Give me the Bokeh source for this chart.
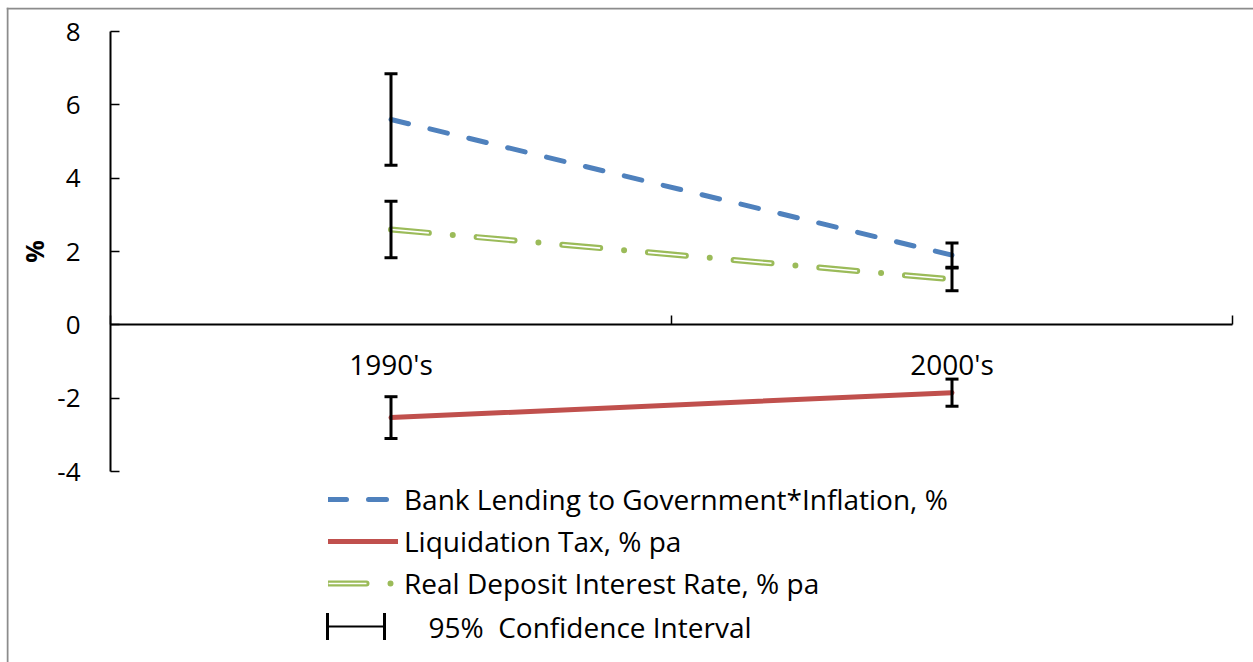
import math
from bokeh.plotting import figure
from bokeh.models import (Range1d, FixedTicker, Whisker, TeeHead, ColumnDataSource,
                          Legend, LegendItem, Label, Span)
from bokeh.embed import file_html
from bokeh.resources import INLINE

# --- data -------------------------------------------------------------
periods = ["1990's", "2000's"]
bank_lending = [5.6, 1.9]            # Bank Lending to Government*Inflation, %
bank_lending_ci = [1.25, 0.33]       # 95% CI half-width
liquidation_tax = [-2.53, -1.85]     # Liquidation Tax, % pa
liquidation_tax_ci = [0.57, 0.37]
real_deposit = [2.6, 1.24]           # Real Deposit Interest Rate, % pa
real_deposit_ci = [0.77, 0.31]
y_ticks = [-4, -2, 0, 2, 4, 6, 8]

# --- layout / style ---------------------------------------------------
FONT = "Open Sans"
W, H = 1253, 662
FRAME_L, FRAME_T = 6, 7          # chart area starts here (grey border)
AXIS_X0, AXIS_X1 = 110, 1232     # canvas x of the category axis ends
AXIS_Y_TOP, AXIS_Y_BOT = 31, 471 # canvas y of the value axis ends
BLUE, RED, GREEN = "#4F81BD", "#C0504D", "#9BBB59"
BORDER = "#8c8c8c"

# category centres sit in the middle of equal bands
x = [i + 0.5 for i in range(len(periods))]
bands = list(range(len(periods) + 1))

px_x = (AXIS_X1 - AXIS_X0) / (bands[-1] - bands[0])
px_y = (AXIS_Y_BOT - AXIS_Y_TOP) / (y_ticks[-1] - y_ticks[0])
x_start = bands[0] - (AXIS_X0 - FRAME_L) / px_x
x_end = bands[-1] + (W - AXIS_X1) / px_x
y_end = y_ticks[-1] + (AXIS_Y_TOP - FRAME_T) / px_y
y_start = y_ticks[0] - (H - AXIS_Y_BOT) / px_y

p = figure(width=W, height=H, output_backend="svg", toolbar_location=None,
           x_range=Range1d(x_start, x_end), y_range=Range1d(y_start, y_end),
           min_border_left=FRAME_L, min_border_right=0, min_border_top=FRAME_T,
           min_border_bottom=0)
p.outline_line_color = None
p.grid.visible = False
p.background_fill_color = "white"
p.border_fill_color = "white"

# grey chart-area border (left and top edges)
p.add_layout(Span(location=x_start + 1 / px_x, dimension="height",
                  line_color=BORDER, line_width=2))
p.add_layout(Span(location=y_end - 1 / px_y, dimension="width",
                  line_color=BORDER, line_width=2))

# --- series -----------------------------------------------------------
r_bank = p.line(x, bank_lending, line_color=BLUE, line_width=5,
                line_dash="18 22", line_cap="round")
r_liq = p.line(x, liquidation_tax, line_color=RED, line_width=5, line_cap="round")
r_dep = p.line(x, real_deposit, line_color=GREEN, line_width=6,
               line_dash="38 24 0 24", line_cap="round")
r_dep_in = p.line(x, real_deposit, line_color="white", line_width=1.6,
                  line_dash="38 48", line_cap="butt")


def add_ci(values, half):
    src = ColumnDataSource(dict(
        base=x,
        lower=[v - h for v, h in zip(values, half)],
        upper=[v + h for v, h in zip(values, half)],
    ))
    w = Whisker(source=src, base="base", lower="lower", upper="upper",
                line_color="black", line_width=3, level="annotation",
                upper_head=TeeHead(size=13, line_width=3, line_color="black"),
                lower_head=TeeHead(size=13, line_width=3, line_color="black"))
    p.add_layout(w)


add_ci(bank_lending, bank_lending_ci)
add_ci(real_deposit, real_deposit_ci)
add_ci(liquidation_tax, liquidation_tax_ci)

# --- axes (both pinned inside the chart area) -------------------------
yaxis = p.yaxis[0]
yaxis.fixed_location = bands[0]
yaxis.ticker = FixedTicker(ticks=y_ticks)
yaxis.major_label_overrides = {t: str(t) for t in y_ticks}
yaxis.bounds = (y_ticks[0], y_ticks[-1])
yaxis.axis_line_width = 2
yaxis.major_tick_in = 9
yaxis.major_tick_out = 0
yaxis.major_tick_line_width = 1.5
yaxis.minor_tick_line_color = None
yaxis.major_label_text_font = FONT
yaxis.major_label_text_font_size = "26px"
yaxis.major_label_text_color = "black"
yaxis.major_label_standoff = 30

xaxis = p.xaxis[0]
xaxis.fixed_location = 0
xaxis.bounds = (bands[0], bands[-1])
xaxis.ticker = FixedTicker(ticks=x, minor_ticks=bands)
xaxis.major_label_overrides = {xi: lbl for xi, lbl in zip(x, periods)}
xaxis.major_tick_line_color = None
xaxis.minor_tick_in = 9
xaxis.minor_tick_out = 0
xaxis.minor_tick_line_width = 1.5
xaxis.axis_line_width = 2
xaxis.major_label_text_font = FONT
xaxis.major_label_text_font_size = "28px"
xaxis.major_label_text_color = "black"
xaxis.major_label_standoff = 14

# value-axis title, centred on the axis span
p.add_layout(Label(x=33 - FRAME_L, y=H - (AXIS_Y_TOP + AXIS_Y_BOT) / 2,
                   x_units="screen", y_units="screen", text="%", angle=math.pi / 2,
                   text_align="center", text_baseline="middle",
                   text_font=FONT, text_font_size="25px", text_font_style="bold",
                   text_color="black"))

# --- legend -----------------------------------------------------------
LEG_X = 328 - FRAME_L
LEG_TOP = 478
ROW = 42
legend = Legend(items=[
    LegendItem(label="Bank Lending to Government*Inflation, %", renderers=[r_bank]),
    LegendItem(label="Liquidation Tax, % pa", renderers=[r_liq]),
    LegendItem(label="Real Deposit Interest Rate, % pa", renderers=[r_dep, r_dep_in]),
], location=(LEG_X, H - (LEG_TOP + 3 * ROW)), glyph_width=70, glyph_height=ROW,
    label_height=ROW, spacing=0, padding=0, margin=0, label_standoff=6,
    border_line_color=None, background_fill_alpha=0,
    label_text_font=FONT, label_text_font_size="28px", label_text_color="black")
p.add_layout(legend)

# confidence-interval key
ci_y = H - (LEG_TOP + 3 * ROW + 22)
ci_key = ColumnDataSource(dict(base=[ci_y], lower=[LEG_X - 1], upper=[LEG_X + 56]))
p.add_layout(Whisker(source=ci_key, base="base", lower="lower", upper="upper",
                     dimension="width", base_units="screen", lower_units="screen",
                     upper_units="screen", line_color="black", line_width=2,
                     level="annotation",
                     upper_head=TeeHead(size=27, line_width=3, line_color="black"),
                     lower_head=TeeHead(size=27, line_width=3, line_color="black")))
p.add_layout(Label(x=LEG_X + 100, y=ci_y, x_units="screen", y_units="screen",
                   text="95%\u00a0 Confidence Interval", text_baseline="middle",
                   text_font=FONT, text_font_size="28px", text_color="black"))

open("out.html", "w").write(file_html(p, INLINE))
